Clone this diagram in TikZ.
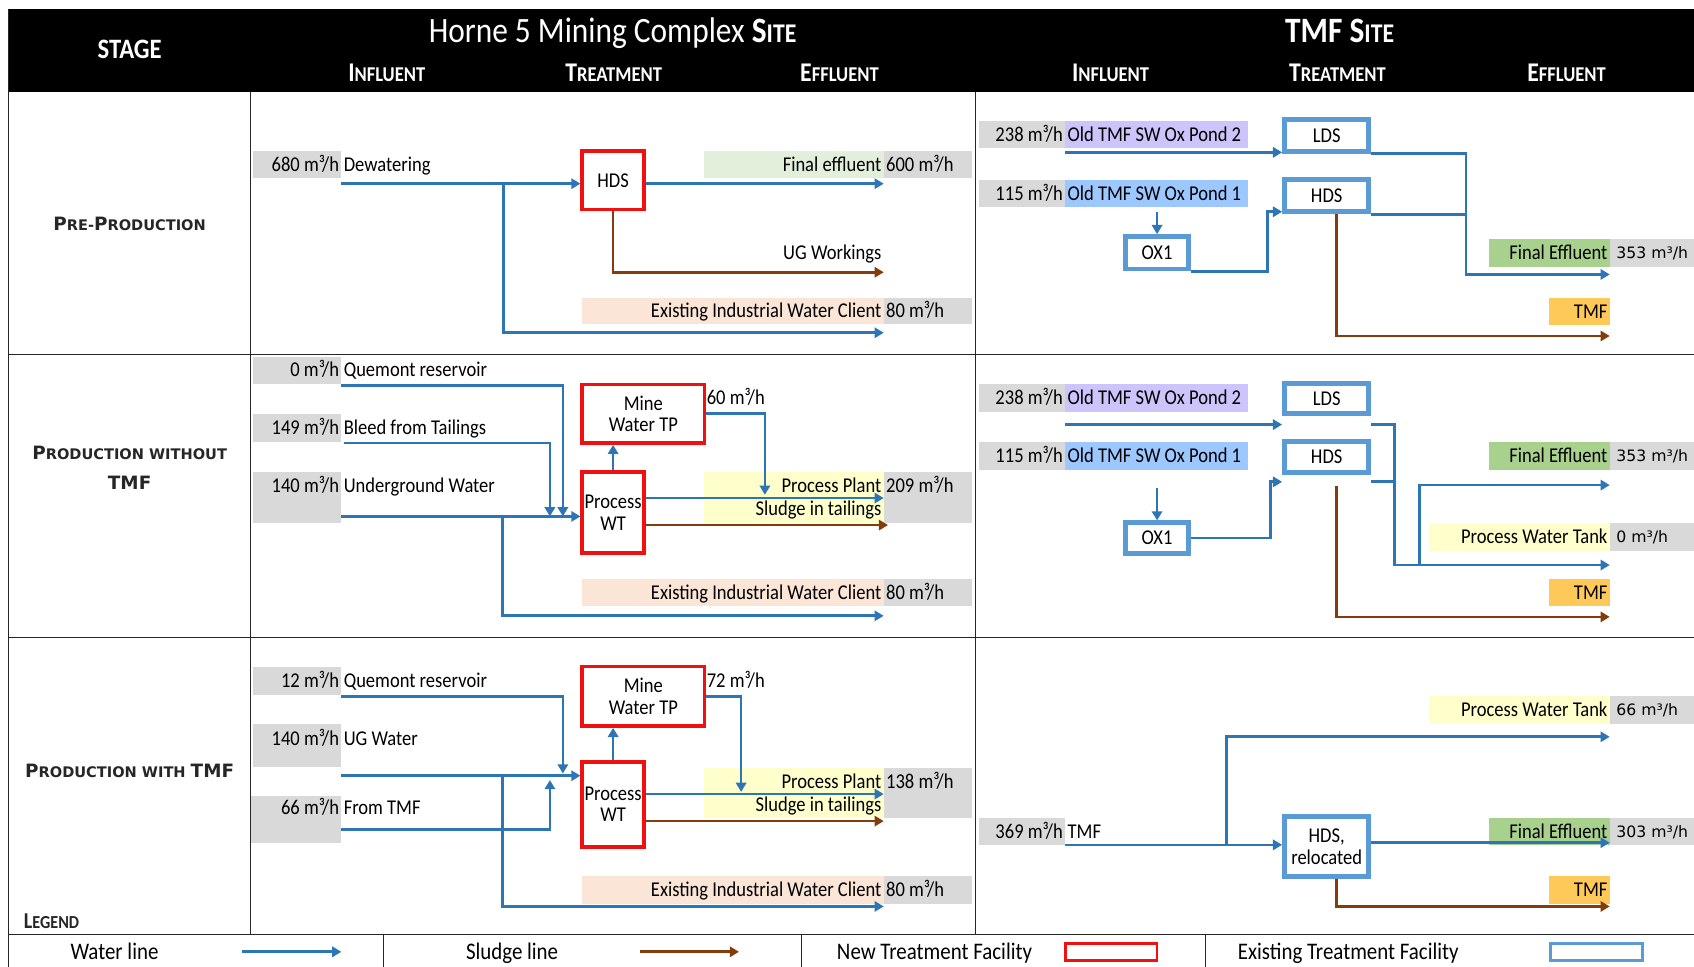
\documentclass[tikz,border=0pt]{standalone}
\usepackage{fontspec}
\setmainfont{Carlito}[FakeStretch=0.88]
\newfontfamily\dvs{DejaVu Sans}
\usetikzlibrary{arrows.meta}
\definecolor{wblue}{HTML}{2E75B6}
\definecolor{sbrown}{HTML}{843C0C}
\definecolor{nred}{HTML}{F01010}
\definecolor{eblue}{HTML}{5B9BD5}
\definecolor{gbox}{HTML}{D9D9D9}
\definecolor{lgreen}{HTML}{E2EFDA}
\definecolor{mgreen}{HTML}{A9D18E}
\definecolor{peach}{HTML}{FBE5D6}
\definecolor{lyellow}{HTML}{FFFFCC}
\definecolor{orng}{HTML}{FFC95A}
\definecolor{lav}{HTML}{CCC4FA}
\definecolor{lblue}{HTML}{9DC8FF}
\newcommand\BG[2]{{\fontsize{#1}{#1}\selectfont #2}}
\newcommand\bandR[8][txt]{\fill[#3] (#4,#5) rectangle (#6,#7); \node[#1,anchor=east] (#2) at ({#6-2},{(#5+#7)/2}) {#8};}
\newcommand\bandL[8][txt]{\fill[#3] (#4,#5) rectangle (#6,#7); \node[#1,anchor=west] (#2) at ({#4+2},{(#5+#7)/2}) {#8};}
\begin{document}
\begin{tikzpicture}[x=1pt,y=-1pt,
  txt/.style={inner sep=0pt, text height=12.5pt, text depth=0pt, font=\fontsize{19.5}{22}\selectfont},
  dv/.style={inner sep=0pt, xshift=4pt, text height=10.5pt, text depth=0pt, font=\dvs\fontsize{14.5}{16}\selectfont},
  water/.style={draw=wblue, line width=2.5pt, -{Triangle[length=8.5pt,width=9.5pt]}},
  wline/.style={draw=wblue, line width=2.5pt},
  sludge/.style={draw=sbrown, line width=2.5pt, -{Triangle[length=8.5pt,width=9.5pt]}},
  newbox/.style={draw=nred, line width=3.4pt, fill=white, inner sep=0pt, align=center, font=\fontsize{19.5}{20}\selectfont},
  oldbox/.style={draw=eblue, line width=4.5pt, fill=white, inner sep=0pt, align=center, font=\fontsize{19.5}{20}\selectfont},
  grid/.style={draw=black!85, line width=1.3pt},
  hdr/.style={text=white, inner sep=0pt, anchor=base},
  stg/.style={inner sep=0pt, anchor=base, align=center, font=\dvs\bfseries\fontsize{13.5}{16}\selectfont, text=black!85},
  leg/.style={inner sep=0pt, anchor=base, font=\fontsize{22}{22}\selectfont}]
\useasboundingbox (0,0) rectangle (1568,895);

% header
\fill[black] (8,8) rectangle (1568,85);
\node[hdr, font=\bfseries\fontsize{26}{26}\selectfont] (hstage) at (120,54) {STAGE};
\node[hdr, font=\fontsize{33}{33}\selectfont] (hh5) at (567,39) {Horne 5 Mining Complex \textbf{S\BG{25}{ITE}}};
\node[hdr, font=\bfseries\fontsize{33}{33}\selectfont] (htmf) at (1240,39) {TMF S\BG{25}{ITE}};
\node[hdr, font=\bfseries\fontsize{19.5}{20}\selectfont] (hin1) at (358,75) {\BG{25}{I}NFLUENT};
\node[hdr, font=\bfseries\fontsize{19.5}{20}\selectfont] (htr1) at (568,75) {\BG{25}{T}REATMENT};
\node[hdr, font=\bfseries\fontsize{19.5}{20}\selectfont] (hef1) at (777,75) {\BG{25}{E}FFLUENT};
\node[hdr, font=\bfseries\fontsize{19.5}{20}\selectfont] (hin2) at (1028,75) {\BG{25}{I}NFLUENT};
\node[hdr, font=\bfseries\fontsize{19.5}{20}\selectfont] (htr2) at (1238,75) {\BG{25}{T}REATMENT};
\node[hdr, font=\bfseries\fontsize{19.5}{20}\selectfont] (hef2) at (1450,75) {\BG{25}{E}FFLUENT};

% stage labels
\node[stg] (s1) at (120,213) {\BG{17}{P}RE-\BG{17}{P}RODUCTION};
\node[stg] (s2a) at (120,425) {\BG{17}{P}RODUCTION WITHOUT};
\node[stg] (s2b) at (120,453) {\BG{17}{TMF}};
\node[stg] (s3) at (120,720) {\BG{17}{P}RODUCTION WITH \BG{17}{TMF}};
\node[anchor=base west, inner sep=0pt, text=black!85, font=\bfseries\fontsize{17}{17}\selectfont] (sleg) at (22,859) {\BG{21}{L}EGEND};

% ===== Row 1 left
\bandR{g680}{gbox}{234}{140}{316}{165}{680 m³/h}
\node[txt,anchor=west] (tdew) at (318,152.5) {Dewatering};
\bandR{tfe1}{lgreen}{652}{140}{818}{165}{Final effluent}
\bandL{g600}{gbox}{818}{140}{900}{165}{600 m³/h}
\node[txt,anchor=east] (tug) at (816,234) {UG Workings};
\bandR{tiw1}{peach}{539}{276}{818}{300}{Existing Industrial Water Client}
\bandL{g80a}{gbox}{818}{276}{900}{300}{80 m³/h}
\node[newbox, minimum width=57, minimum height=54] (hds1) at (567.5,167) {HDS};
\coordinate (c1a) at (316,170);
\coordinate (c1b) at (466,170);
\coordinate (c1c) at (818,308);
\coordinate (c1d) at (818,170);
\coordinate (c1e) at (818,252);
\draw[water] (c1a) -- (c1a -| hds1.west);
\draw[water] (c1b) |- (c1c);
\draw[water] (c1d -| hds1.east) -- (c1d);
\draw[sludge] (hds1.south) |- (c1e);

% ===== Row 1 right
\bandR{g238a}{gbox}{906}{112}{986}{137}{238 m³/h}
\bandL{tp2a}{lav}{986}{112}{1155}{137}{Old TMF SW Ox Pond 2}
\bandR{g115a}{gbox}{906}{167}{986}{192}{115 m³/h}
\bandL{tp1a}{lblue}{986}{167}{1155}{192}{Old TMF SW Ox Pond 1}
\bandR{tfe2}{mgreen}{1378}{221}{1490}{247}{Final Effluent}
\bandL[dv]{g353a}{gbox}{1490}{221}{1568}{247}{353 m³/h}
\bandR{ttmf1}{orng}{1434}{276}{1490}{301}{TMF}
\node[oldbox, minimum width=78, minimum height=29] (lds1) at (1228,125.5) {LDS};
\node[oldbox, minimum width=78, minimum height=30] (hdsb1) at (1228,181) {HDS};
\node[oldbox, minimum width=58, minimum height=30] (ox1a) at (1071,234) {OX1};
\coordinate (r1a) at (986,141);
\draw[water] (r1a) -- (r1a -| lds1.west);
\coordinate (r1b) at (1071,196);
\draw[water] (r1b) -- (ox1a.north);
\coordinate (r1c) at (1173,196);
\draw[water] (ox1a.south east) -| (r1c) -- (r1c -| hdsb1.west);
\coordinate (r1v) at (1357,0);
\coordinate (r1d) at (1490,254);
\draw[water] (lds1.south east) -| (r1v |- r1d) -- (r1d);
\draw[wline] (hdsb1.south east) -- (hdsb1.south east -| r1v);
\coordinate (r1e) at (1490,311);
\draw[sludge] ([xshift=9pt]hdsb1.south) |- (r1e);

% ===== Row 2 left
\bandR{g0}{gbox}{234}{330}{316}{355}{0 m³/h}
\node[txt,anchor=west] (tq2) at (318,342.5) {Quemont reservoir};
\bandR{g149}{gbox}{234}{383}{316}{409}{149 m³/h}
\node[txt,anchor=west] (tbl) at (318,396) {Bleed from Tailings};
\fill[gbox] (234,437) rectangle (316,484);
\node[txt,anchor=east] (g140a) at (314,450) {140 m³/h};
\node[txt,anchor=west] (tugw) at (318,450) {Underground Water};
\node[txt,anchor=west] (t60) at (654,368) {60 m³/h};
\fill[lyellow] (652,437) rectangle (818,484);
\node[txt,anchor=east] (tpp2) at (816,450) {Process Plant};
\node[txt,anchor=east] (tst2) at (816,471) {Sludge in tailings};
\fill[gbox] (818,437) rectangle (900,484);
\node[txt,anchor=west] (g209) at (820,450) {209 m³/h};
\bandR{tiw2}{peach}{539}{536}{818}{561}{Existing Industrial Water Client}
\bandL{g80b}{gbox}{818}{536}{900}{561}{80 m³/h}
\node[newbox, minimum width=113, minimum height=54] (mw2) at (595.5,383) {Mine\\Water TP};
\node[newbox, minimum width=57, minimum height=75] (pw2) at (567.5,474.5) {Process\\WT};
\coordinate (l2a) at (316,357); \coordinate (l2b) at (521,478);
\draw[water] (l2a) -| (l2b);
\coordinate (l2c) at (318,410); \coordinate (l2d) at (509,478);
\draw[water] (l2c) -| (l2d);
\coordinate (l2e) at (316,478);
\draw[water] (l2e) -- (l2e -| pw2.west);
\coordinate (l2f) at (465,478); \coordinate (l2g) at (818,570);
\draw[water] (l2f) |- (l2g);
\draw[water] (pw2.north) -- (pw2.north |- mw2.south);
\coordinate (l2h) at (708,458);
\draw[water] (mw2.east) -| (l2h);
\coordinate (l2i) at (818,461);
\draw[water] (l2i -| pw2.east) -- (l2i);
\coordinate (l2j) at (822,486);
\draw[sludge] (l2j -| pw2.east) -- (l2j);

% ===== Row 2 right
\bandR{g238b}{gbox}{906}{355}{986}{381}{238 m³/h}
\bandL{tp2b}{lav}{986}{355}{1155}{381}{Old TMF SW Ox Pond 2}
\bandR{g115b}{gbox}{906}{409}{986}{435}{115 m³/h}
\bandL{tp1b}{lblue}{986}{409}{1155}{435}{Old TMF SW Ox Pond 1}
\bandR{tfe3}{mgreen}{1378}{409}{1490}{435}{Final Effluent}
\bandL[dv]{g353b}{gbox}{1490}{409}{1568}{435}{353 m³/h}
\bandR{tpw2}{lyellow}{1323}{484}{1490}{510}{Process Water Tank}
\bandL[dv]{g0b}{gbox}{1490}{484}{1568}{510}{0 m³/h}
\bandR{ttmf2}{orng}{1434}{536}{1490}{561}{TMF}
\node[oldbox, minimum width=78, minimum height=28] (lds2) at (1228,369) {LDS};
\node[oldbox, minimum width=78, minimum height=28] (hdsb2) at (1228,423) {HDS};
\node[oldbox, minimum width=58, minimum height=28] (ox1b) at (1071,498) {OX1};
\coordinate (r2a) at (986,393);
\draw[water] (r2a) -- (r2a -| lds2.west);
\coordinate (r2b) at (1071,452);
\draw[water] (r2b) -- (ox1b.north);
\coordinate (r2c) at (1176,446);
\draw[water] (ox1b.east) -| (r2c) -- (r2c -| hdsb2.west);
\coordinate (r2v) at (1291,0);
\coordinate (r2d) at (1490,523);
\draw[water] (r2a -| lds2.east) -| (r2v |- r2d) -- (r2d);
\draw[wline] (r2c -| hdsb2.east) -- (r2c -| r2v);
\coordinate (r2f) at (1314,523); \coordinate (r2g) at (1490,449);
\draw[water] (r2f) |- (r2g);
\coordinate (r2h) at (1237,450); \coordinate (r2i) at (1490,571);
\draw[sludge] (r2h) |- (r2i);

% ===== Row 3 left
\bandR{g12}{gbox}{234}{617}{316}{643}{12 m³/h}
\node[txt,anchor=west] (tq3) at (318,630) {Quemont reservoir};
\fill[gbox] (234,670) rectangle (316,710);
\node[txt,anchor=east] (g140b) at (314,684) {140 m³/h};
\node[txt,anchor=west] (tugw3) at (318,684) {UG Water};
\fill[gbox] (232,737) rectangle (316,780);
\node[txt,anchor=east] (g66) at (314,748) {66 m³/h};
\node[txt,anchor=west] (tft) at (318,748) {From TMF};
\node[txt,anchor=west] (t72) at (654,630) {72 m³/h};
\fill[lyellow] (652,711) rectangle (818,757);
\node[txt,anchor=east] (tpp3) at (816,724) {Process Plant};
\node[txt,anchor=east] (tst3) at (816,745) {Sludge in tailings};
\fill[gbox] (818,711) rectangle (900,757);
\node[txt,anchor=west] (g138) at (820,724) {138 m³/h};
\bandR{tiw3}{peach}{539}{811}{818}{837}{Existing Industrial Water Client}
\bandL{g80c}{gbox}{818}{811}{900}{837}{80 m³/h}
\node[newbox, minimum width=113, minimum height=55] (mw3) at (595.5,644.5) {Mine\\Water TP};
\node[newbox, minimum width=57, minimum height=79] (pw3) at (567.5,744.5) {Process\\WT};
\coordinate (l3a) at (316,645); \coordinate (l3b) at (521,716);
\draw[water] (l3a) -| (l3b);
\coordinate (l3c) at (316,718);
\draw[water] (l3c) -- (l3c -| pw3.west);
\coordinate (l3d) at (316,768); \coordinate (l3e) at (509,722);
\draw[water] (l3d) -| (l3e);
\coordinate (l3f) at (465,718); \coordinate (l3g) at (818,839);
\draw[water] (l3f) |- (l3g);
\draw[water] (pw3.north) -- (pw3.north |- mw3.south);
\coordinate (l3h) at (686,733);
\draw[water] (mw3.east) -| (l3h);
\coordinate (l3i) at (818,735);
\draw[water] (l3i -| pw3.east) -- (l3i);
\coordinate (l3j) at (818,760);
\draw[sludge] (l3j -| pw3.east) -- (l3j);

% ===== Row 3 right
\bandR{tpw3}{lyellow}{1323}{644}{1490}{670}{Process Water Tank}
\bandL[dv]{g66b}{gbox}{1490}{644}{1568}{670}{66 m³/h}
\bandR{g369}{gbox}{906}{757}{986}{782}{369 m³/h}
\node[txt,anchor=west] (ttmfin) at (988,769.5) {TMF};
\bandR{tfe4}{mgreen}{1378}{757}{1490}{782}{Final Effluent}
\bandL[dv]{g303}{gbox}{1490}{757}{1568}{782}{303 m³/h}
\bandR{ttmf3}{orng}{1434}{811}{1490}{837}{TMF}
\node[oldbox, minimum width=78, minimum height=55] (hdsr) at (1228,783.5) {HDS,\\relocated};
\coordinate (r3a) at (986,782);
\draw[water] (r3a) -- (r3a -| hdsr.west);
\coordinate (r3b) at (1135,782); \coordinate (r3c) at (1490,682);
\draw[water] (r3b) |- (r3c);
\coordinate (r3d) at (1490,780);
\draw[water] (r3d -| hdsr.east) -- (r3d);
\coordinate (r3e) at (1490,839);
\draw[sludge] ([xshift=9pt]hdsr.south) |- (r3e);

% ===== grid
\draw[grid] (8,8) -- (8,895);
\draw[grid] (8,328) -- (1568,328);
\draw[grid] (8,590) -- (1568,590);
\draw[grid] (8,865) -- (1568,865);
\draw[grid] (232,85) -- (232,865);
\draw[grid] (903,85) -- (903,865);
\draw[grid] (355,865) -- (355,895);
\draw[grid] (742,865) -- (742,895);
\draw[grid] (1116,865) -- (1116,895);

% ===== legend row
\node[leg] (lg1) at (106,888) {Water line};
\coordinate (lw1) at (224,881); \coordinate (lw2) at (316,881);
\draw[water] (lw1) -- (lw2);
\node[leg] (lg2) at (474,888) {Sludge line};
\coordinate (ls1) at (592,881); \coordinate (ls2) at (684,881);
\draw[sludge] (ls1) -- (ls2);
\node[leg] (lg3) at (865,888) {New Treatment Facility};
\node[draw=nred, line width=2.5pt, minimum width=85pt, minimum height=16pt, inner sep=0pt] (lgr) at (1028.5,881) {};
\node[leg] (lg4) at (1248,888) {Existing Treatment Facility};
\node[draw=eblue, line width=2.5pt, minimum width=85pt, minimum height=16pt, inner sep=0pt] (lgb) at (1477.5,881) {};
\end{tikzpicture}
\end{document}
